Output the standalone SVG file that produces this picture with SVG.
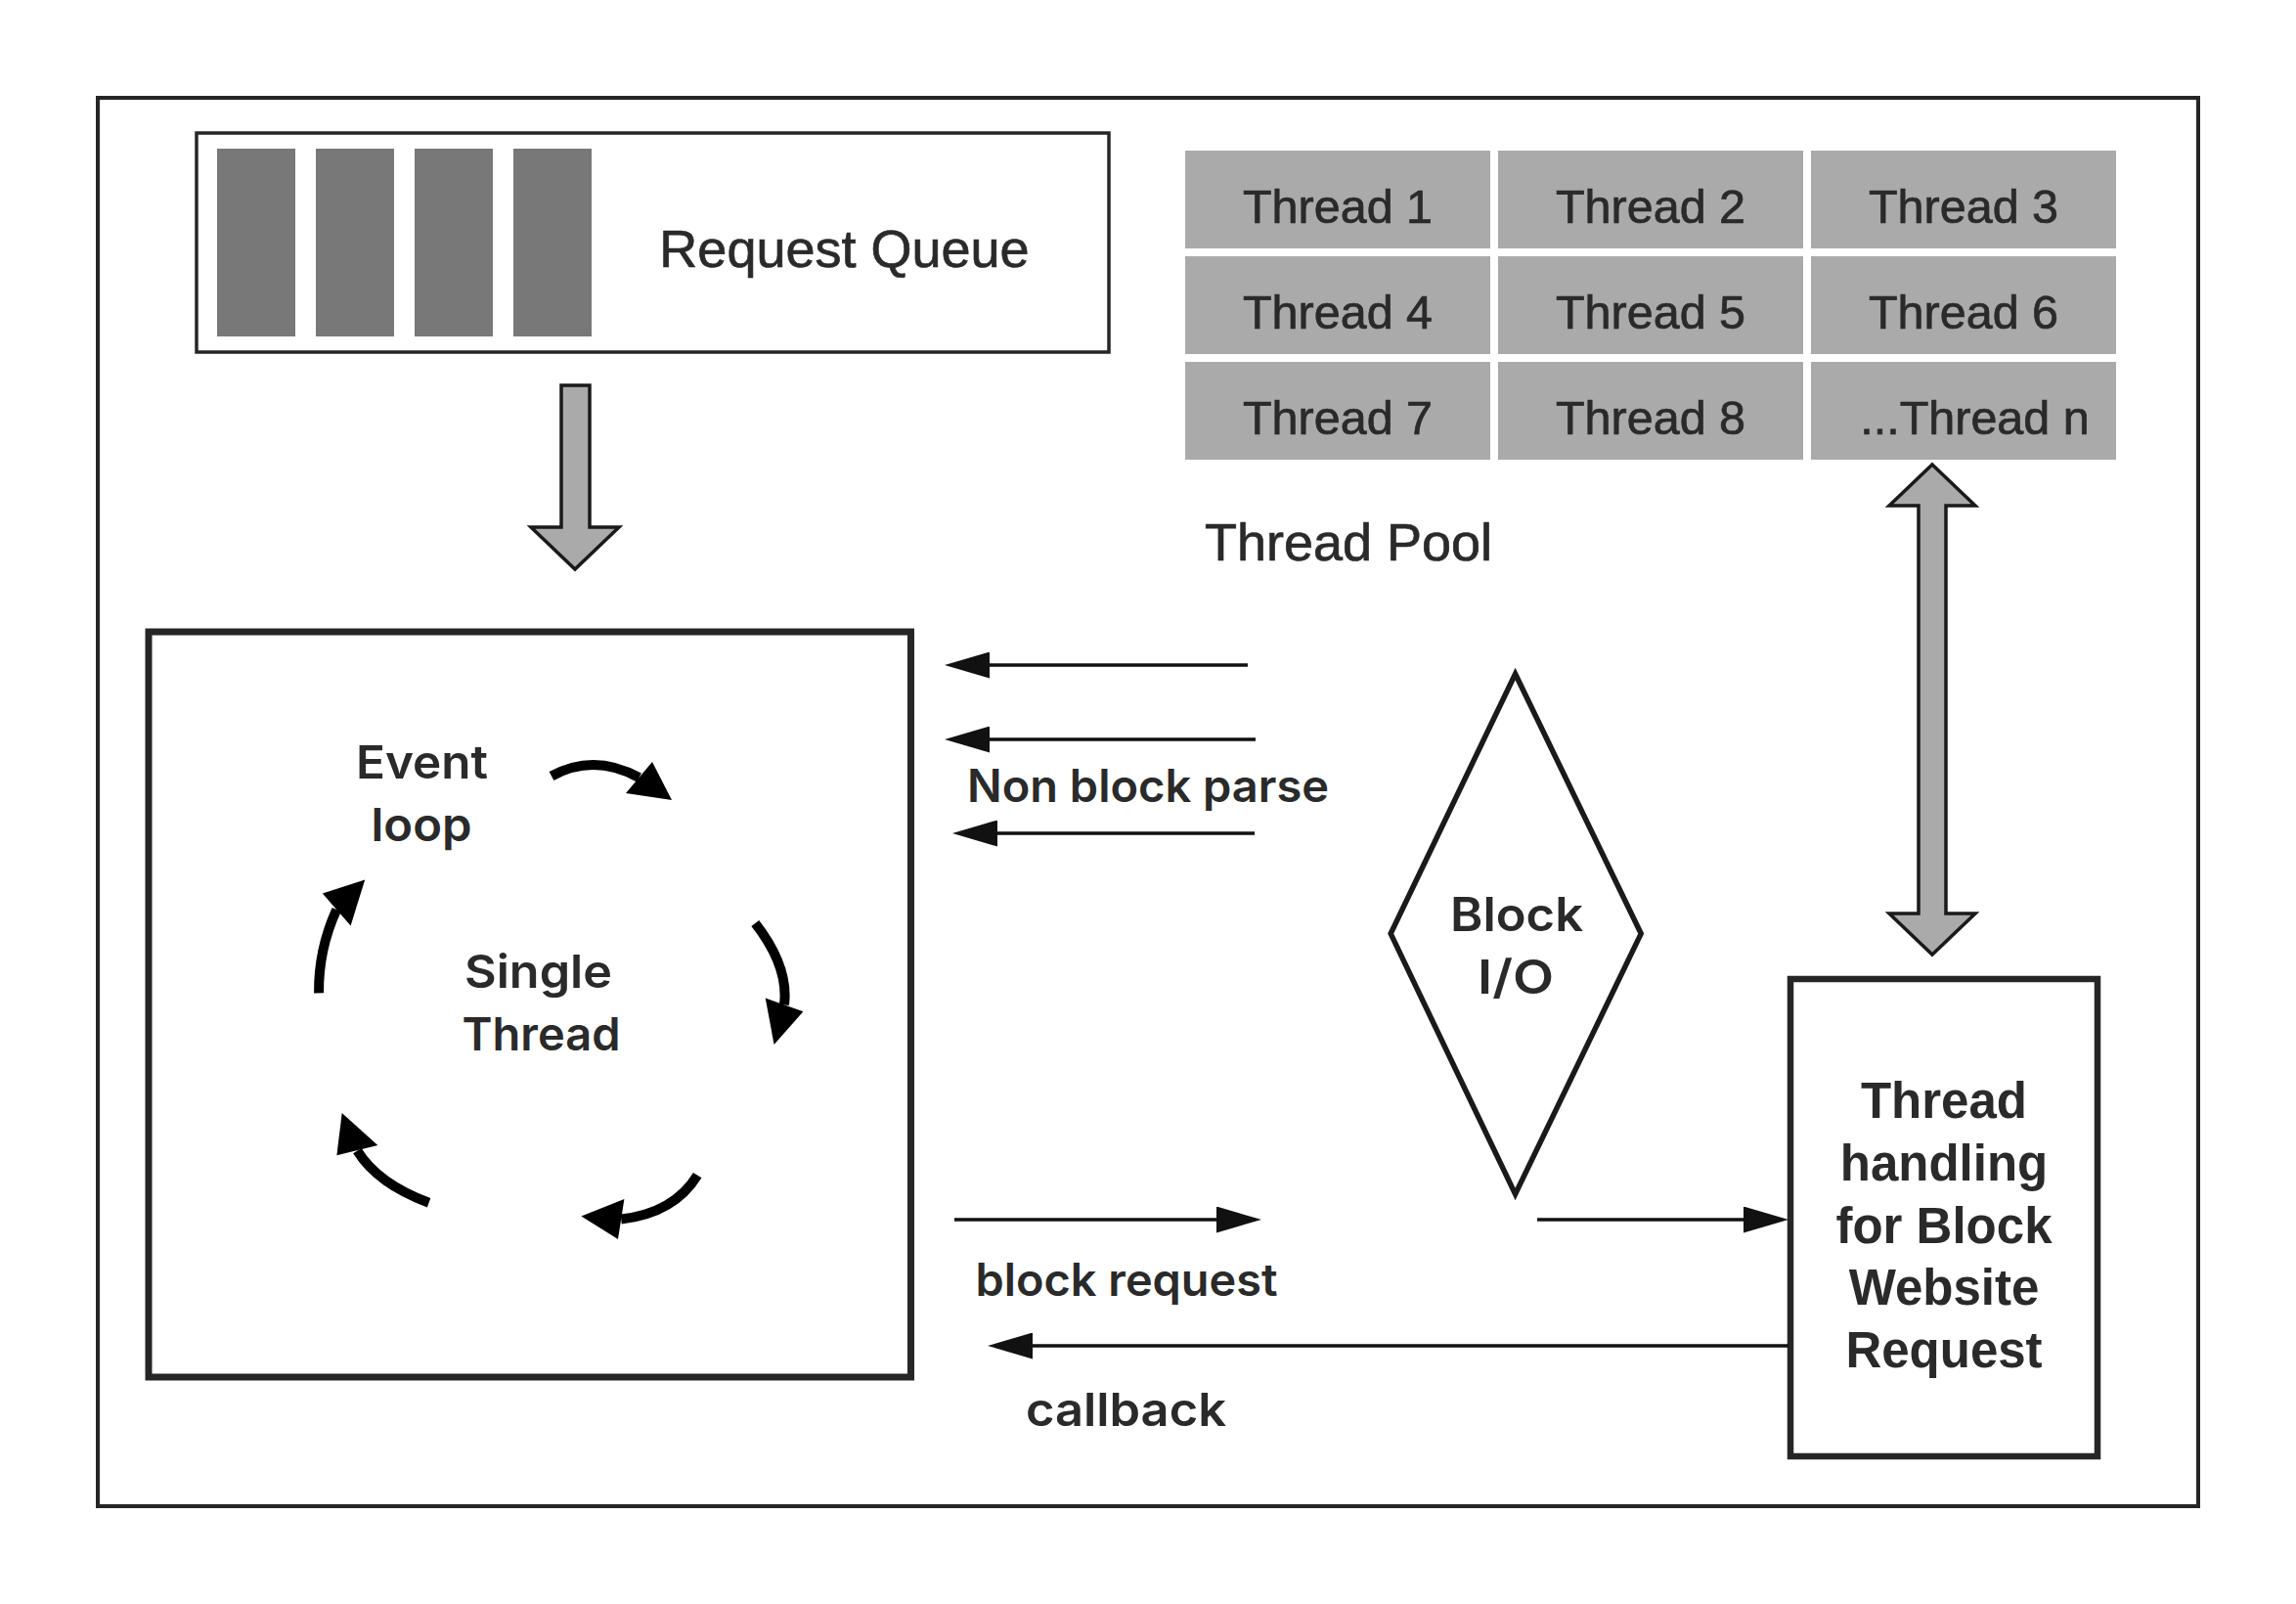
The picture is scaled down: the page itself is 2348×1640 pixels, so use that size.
<svg xmlns="http://www.w3.org/2000/svg" width="2348" height="1640" viewBox="0 0 2348 1640">
<style>
.frame{fill:none;stroke:#262626;stroke-width:4}
.box{fill:#fff;stroke:#262626}
.cell{fill:#aaaaaa}
.bar{fill:#787878}
.t1{font-family:"Liberation Sans",Arial,sans-serif;fill:#2a2a2a;stroke:#2a2a2a;stroke-width:0.7;text-anchor:middle}
.t2{font-family:Inter,"Liberation Sans",sans-serif;font-weight:600;fill:#2a2a2a;text-anchor:middle}
.t3{font-family:"Liberation Sans",Arial,sans-serif;font-weight:bold;fill:#2a2a2a;text-anchor:middle}
.conn{stroke:#111;stroke-width:3.5;fill:none}
.fat{fill:#aaaaaa;stroke:#1a1a1a;stroke-width:3.5;stroke-linejoin:miter}
.loop{stroke:#000;stroke-width:10;fill:none}
.head{fill:#000}
</style>
<defs>
<marker id="ah" markerUnits="userSpaceOnUse" markerWidth="46" markerHeight="27" viewBox="0 0 46 27" refX="0" refY="13.5" orient="auto">
<path d="M0,0 L46,13.5 L0,27 Z" fill="#111"/>
</marker>
</defs>
<rect width="2348" height="1640" fill="#fff"/>
<rect class="frame" x="100" y="100" width="2148" height="1440"/>

<g id="request-queue">
<rect class="box" x="201" y="136" width="933" height="224" stroke-width="3.5"/>
<rect class="bar" x="222" y="152" width="80" height="192"/>
<rect class="bar" x="323" y="152" width="80" height="192"/>
<rect class="bar" x="424" y="152" width="80" height="192"/>
<rect class="bar" x="525" y="152" width="80" height="192"/>
<text class="t1" x="863.5" y="273" font-size="54">Request Queue</text>
</g>

<g id="thread-pool">
<rect class="cell" x="1212" y="154" width="312" height="100"/>
<rect class="cell" x="1532" y="154" width="312" height="100"/>
<rect class="cell" x="1852" y="154" width="312" height="100"/>
<rect class="cell" x="1212" y="262" width="312" height="100"/>
<rect class="cell" x="1532" y="262" width="312" height="100"/>
<rect class="cell" x="1852" y="262" width="312" height="100"/>
<rect class="cell" x="1212" y="370" width="312" height="100"/>
<rect class="cell" x="1532" y="370" width="312" height="100"/>
<rect class="cell" x="1852" y="370" width="312" height="100"/>
<text class="t1" font-size="48.5" x="1368" y="228">Thread 1</text>
<text class="t1" font-size="48.5" x="1688" y="228">Thread 2</text>
<text class="t1" font-size="48.5" x="2008" y="228">Thread 3</text>
<text class="t1" font-size="48.5" x="1368" y="336">Thread 4</text>
<text class="t1" font-size="48.5" x="1688" y="336">Thread 5</text>
<text class="t1" font-size="48.5" x="2008" y="336">Thread 6</text>
<text class="t1" font-size="48.5" x="1368" y="444">Thread 7</text>
<text class="t1" font-size="48.5" x="1688" y="444">Thread 8</text>
<text class="t1" font-size="48.5" x="2019.5" y="444">...Thread n</text>
<text class="t1" font-size="54" x="1379" y="573">Thread Pool</text>
</g>

<g id="single-thread">
<rect class="box" x="152" y="646" width="779.5" height="762" stroke-width="7"/>
<text class="t2" font-size="47" x="431.5" y="796" textLength="135" lengthAdjust="spacingAndGlyphs">Event</text>
<text class="t2" font-size="47" x="431" y="860" textLength="103" lengthAdjust="spacingAndGlyphs">loop</text>
<text class="t2" font-size="47" x="550.5" y="1010" textLength="151" lengthAdjust="spacingAndGlyphs">Single</text>
<text class="t2" font-size="47" x="553.5" y="1074" textLength="162" lengthAdjust="spacingAndGlyphs">Thread</text>
<path class="loop" d="M564,793.5 Q607.25,769.75 653.5,795"/>
<polygon class="head" points="667,779 640,811 687,818"/>
<path class="loop" d="M772.3,944 Q806.85,988.3 802,1027.4"/>
<polygon class="head" points="782.7,1020.5 821.4,1034.3 791.6,1068"/>
<path class="loop" d="M713.2,1201.6 Q689.4,1240.35 635.2,1246.5"/>
<polygon class="head" points="638.4,1226 632,1267 594.4,1243.5"/>
<path class="loop" d="M438.6,1229.7 Q386.2,1210.25 365.4,1176.6"/>
<polygon class="head" points="386.3,1171 344.4,1181.2 349.7,1137.9"/>
<path class="loop" d="M326.1,1015.4 Q325.45,971.3 344.2,930"/>
<polygon class="head" points="329.8,913.4 358.6,946.5 373.2,899.6"/>
</g>

<g id="block-io">
<polygon points="1549.6,689 1678.2,954.6 1549.6,1221 1422.2,954.6" fill="#fff" stroke="#1a1a1a" stroke-width="5.5"/>
<text class="t2" font-size="48" x="1551" y="952" textLength="136" lengthAdjust="spacingAndGlyphs">Block</text>
<text class="t2" font-size="48" x="1550" y="1016" textLength="78" lengthAdjust="spacingAndGlyphs">I/O</text>
</g>

<g id="thread-handling">
<rect class="box" x="1831" y="1001" width="314" height="488" stroke-width="6.5"/>
<text class="t3" font-size="51" x="1988" y="1143">Thread</text>
<text class="t3" font-size="51" x="1988" y="1207">handling</text>
<text class="t3" font-size="51" x="1988" y="1271">for Block</text>
<text class="t3" font-size="51" x="1988" y="1334">Website</text>
<text class="t3" font-size="51" x="1988" y="1398">Request</text>
</g>

<g id="connectors">
<path class="fat" d="M574,394 L603,394 L603,539 L633,539 L588,582 L543,539 L574,539 Z"/>
<path class="fat" d="M1976,475 L2020,517 L1990,517 L1990,934 L2020,934 L1976,976 L1932,934 L1962,934 L1962,517 L1932,517 Z"/>
<line class="conn" x1="1276" y1="680" x2="1012" y2="680" marker-end="url(#ah)"/>
<line class="conn" x1="1284" y1="756" x2="1012" y2="756" marker-end="url(#ah)"/>
<line class="conn" x1="1283" y1="852" x2="1020" y2="852" marker-end="url(#ah)"/>
<text class="t2" font-size="46" x="1174" y="820" textLength="370" lengthAdjust="spacingAndGlyphs">Non block parse</text>
<line class="conn" x1="976" y1="1247" x2="1244" y2="1247" marker-end="url(#ah)"/>
<text class="t2" font-size="46" x="1152" y="1325" textLength="309" lengthAdjust="spacingAndGlyphs">block request</text>
<line class="conn" x1="1572" y1="1247" x2="1783" y2="1247" marker-end="url(#ah)"/>
<line class="conn" x1="1829" y1="1376" x2="1056" y2="1376" marker-end="url(#ah)"/>
<text class="t2" font-size="47" x="1151.5" y="1458" textLength="205" lengthAdjust="spacingAndGlyphs">callback</text>
</g>
</svg>
